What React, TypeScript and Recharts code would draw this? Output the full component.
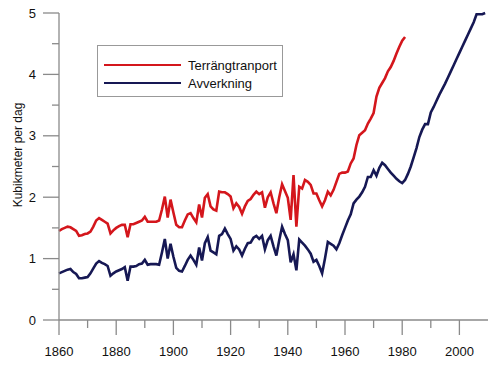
import { LineChart, Line, XAxis, YAxis } from 'recharts';

// years 1860–2009
const firstYear = 1860;

// Terrängtransport, 1860–1981
const terrang = [
  1.45, 1.48, 1.5, 1.52, 1.51, 1.48, 1.45, 1.37, 1.38, 1.4,
  1.41, 1.44, 1.52, 1.62, 1.66, 1.63, 1.6, 1.57, 1.41, 1.46,
  1.5, 1.53, 1.55, 1.55, 1.35, 1.56, 1.56, 1.58, 1.6, 1.62,
  1.68, 1.6, 1.6, 1.6, 1.6, 1.62, 1.8, 2.01, 1.67, 1.96,
  1.75, 1.55, 1.51, 1.51, 1.62, 1.72, 1.74, 1.66, 1.59, 1.88,
  1.67, 1.99, 2.05, 1.85, 1.8, 1.78, 2.09, 2.08, 2.08, 2.05,
  2.01, 1.82, 1.9, 1.84, 1.73, 1.85, 1.94, 1.97, 2.04, 2.09,
  2.05, 2.08, 1.83, 2.0, 2.08, 1.9, 1.74, 2.0, 2.21, 2.1,
  1.99, 1.63, 2.36, 1.52, 2.17, 2.14, 2.28, 2.25, 2.2, 2.06,
  2.06, 1.95, 1.85, 1.95, 2.09, 2.03, 2.12, 2.25, 2.38, 2.4,
  2.4, 2.42, 2.55, 2.63, 2.85, 3.01, 3.05, 3.09, 3.2, 3.28,
  3.37, 3.64, 3.78, 3.86, 3.94, 4.05, 4.12, 4.22, 4.34, 4.45,
  4.55, 4.61,
];

// Avverkning, 1860–2009
const avverkning = [
  0.76, 0.78, 0.8, 0.82, 0.83, 0.78, 0.75, 0.68, 0.68, 0.69,
  0.7, 0.76, 0.84, 0.92, 0.96, 0.93, 0.91, 0.88, 0.72, 0.76,
  0.79, 0.81, 0.83, 0.86, 0.64, 0.87, 0.87, 0.88, 0.91, 0.92,
  0.98, 0.9, 0.91, 0.91, 0.91, 0.9, 1.1, 1.32, 1.0, 1.24,
  1.03, 0.85, 0.8, 0.79, 0.88, 0.98, 1.05, 0.98, 0.9, 1.18,
  0.97, 1.25, 1.35, 1.13, 1.1, 1.07, 1.37, 1.4, 1.49, 1.4,
  1.32, 1.13, 1.2, 1.15, 1.05, 1.16, 1.25, 1.26, 1.34, 1.37,
  1.32, 1.37, 1.15, 1.3, 1.37, 1.2, 1.05, 1.3, 1.52, 1.4,
  1.3, 0.94, 1.07, 0.81, 1.31, 1.26, 1.21, 1.15, 1.08, 0.95,
  0.98, 0.88, 0.76, 1.0, 1.27, 1.24, 1.21, 1.15, 1.25, 1.38,
  1.5, 1.62, 1.72, 1.9, 1.96, 2.01, 2.08, 2.17, 2.33, 2.33,
  2.44, 2.35, 2.48, 2.56, 2.52, 2.46, 2.4, 2.35, 2.3, 2.26,
  2.23, 2.28, 2.38, 2.5, 2.65, 2.8, 2.98, 3.1, 3.19, 3.19,
  3.38, 3.47, 3.57, 3.67, 3.76, 3.85, 3.95, 4.05, 4.15, 4.25,
  4.35, 4.45, 4.55, 4.65, 4.75, 4.85, 4.98, 4.98, 4.98, 5.0,
];

const xTicks = [1860, 1870, 1880, 1890, 1900, 1910, 1920, 1930, 1940, 1950, 1960, 1970, 1980, 1990, 2000];
const yTicks = [0, 0.5, 1, 1.5, 2, 2.5, 3, 3.5, 4, 4.5, 5];

const series = [
  { key: 'terrang', name: 'Terrängtranport', color: '#d4161c' },
  { key: 'avverkning', name: 'Avverkning', color: '#161854' },
];

const data = avverkning.map((v, i) => ({
  year: firstYear + i,
  avverkning: v,
  terrang: i < terrang.length ? terrang[i] : undefined,
}));

const FONT = 'Arial, "Liberation Sans", sans-serif';
const AXIS = '#8a8a8a';

function YTick({ x, y, payload }: any) {
  const major = payload.value % 1 === 0;
  return (
    <g>
      <line x1={x - (major ? 16 : 7)} x2={x} y1={y} y2={y} stroke={AXIS} strokeWidth={1.3} />
      {major && (
        <text x={x - 23} y={y + 4.5} textAnchor="end" fontSize={13} fontFamily={FONT} fill="#111">
          {payload.value}
        </text>
      )}
    </g>
  );
}

function XTick({ x, y, payload }: any) {
  const major = payload.value % 20 === 0;
  return (
    <g>
      <line x1={x} x2={x} y1={y} y2={y + (major ? 15 : 8)} stroke={AXIS} strokeWidth={1.3} />
      {major && (
        <text x={x} y={y + 36} textAnchor="middle" fontSize={13} fontFamily={FONT} fill="#111">
          {payload.value}
        </text>
      )}
    </g>
  );
}

export default function App() {
  return (
    <div style={{ position: 'absolute', left: 0, top: 0, width: 500, height: 368, background: '#fff' }}>
      <LineChart width={500} height={368} data={data} margin={{ top: 13, right: 12, bottom: 0, left: 0 }}>
        <XAxis
          dataKey="year"
          type="number"
          domain={[1860, 2010]}
          ticks={xTicks}
          interval={0}
          height={48}
          tickLine={false}
          tickSize={0}
          tickMargin={0}
          tick={<XTick />}
          axisLine={{ stroke: AXIS, strokeWidth: 1.3 }}
        />
        <YAxis
          type="number"
          domain={[0, 5]}
          ticks={yTicks}
          interval={0}
          width={59}
          tickLine={false}
          tickSize={0}
          tickMargin={0}
          tick={<YTick />}
          axisLine={{ stroke: AXIS, strokeWidth: 1.3 }}
        />
        {series.map((s) => (
          <Line
            key={s.key}
            type="linear"
            dataKey={s.key}
            name={s.name}
            stroke={s.color}
            strokeWidth={2.6}
            dot={false}
            connectNulls={false}
            isAnimationActive={false}
          />
        ))}
      </LineChart>
      <div
        style={{
          position: 'absolute',
          left: 4,
          top: 155,
          transform: 'translate(-50%, -50%) rotate(-90deg)',
          marginLeft: 14,
          whiteSpace: 'nowrap',
          fontFamily: FONT,
          fontSize: 12,
          color: '#111',
        }}
      >
        Kubikmeter per dag
      </div>
      <div
        style={{
          position: 'absolute',
          left: 97,
          top: 45,
          width: 186,
          height: 52,
          border: '1px solid #999',
          background: '#fff',
          fontFamily: FONT,
          fontSize: 13,
          color: '#111',
          paddingTop: 10,
          boxSizing: 'border-box',
        }}
      >
        {series.map((s) => (
          <div key={s.key} style={{ display: 'flex', alignItems: 'center', height: 18 }}>
            <span style={{ display: 'inline-block', width: 77, height: 2.6, background: s.color, marginLeft: 6, marginRight: 7 }} />
            {s.name}
          </div>
        ))}
      </div>
    </div>
  );
}
